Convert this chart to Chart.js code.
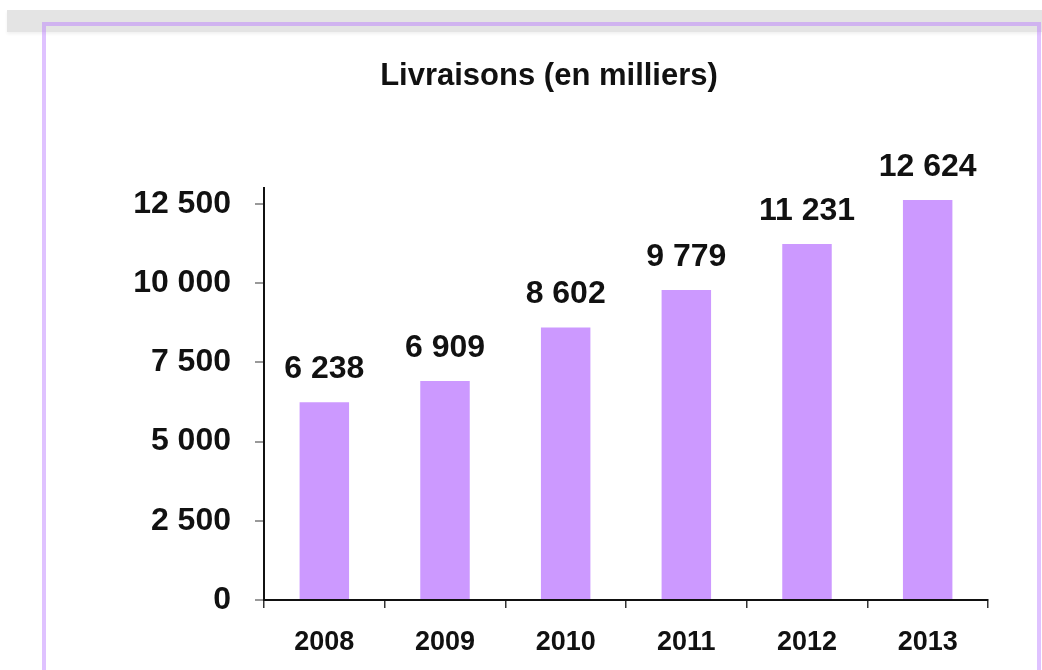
<!DOCTYPE html>
<html lang="fr">

<head>
    <meta charset="UTF-8">
    <title>Livraisons</title>
    <script src="https://cdn.jsdelivr.net/npm/chart.js"></script>
    <style>
        body {
            margin: 0;
            background: #fff;
            width: 1042px;
            height: 670px;
            overflow: hidden;
            position: relative;
            font-family: 'Liberation Sans', Arial, sans-serif;
        }

        .band {
            position: absolute;
            left: 7px;
            top: 10px;
            width: 1035px;
            height: 22px;
            background: #e4e4e4;
            box-shadow: 0 2px 3px rgba(0, 0, 0, 0.06);
        }

        .frame {
            position: absolute;
            left: 42px;
            top: 22px;
            width: 991px;
            height: 720px;
            border: 4px solid rgba(185, 120, 255, 0.45);
        }

        #chart {
            position: absolute;
            left: 0;
            top: 0;
        }
    </style>
</head>

<body>
    <div class="band"></div>
    <div class="frame"></div>
    <canvas id="chart" width="1042" height="670"></canvas>

    <script>
        // donnees
        var annees = ['2008', '2009', '2010', '2011', '2012', '2013'];
        var livraisons = [6238, 6909, 8602, 9779, 11231, 12624];
        var graduations = [0, 2500, 5000, 7500, 10000, 12500];

        var titre = 'Livraisons (en milliers)';

        function fmt(v) {
            return String(v).replace(/\B(?=(\d{3})+(?!\d))/g, ' ');
        }

        // titre + etiquettes de valeurs
        var decor = {
            id: 'decor',
            afterDatasetsDraw: function (chart) {
                var ctx = chart.ctx;
                ctx.save();
                ctx.fillStyle = '#111';
                ctx.textAlign = 'center';
                ctx.textBaseline = 'middle';
                ctx.font = 'bold 31px "Liberation Sans", Arial, sans-serif';
                ctx.fillText(titre, 549, 76);

                ctx.textBaseline = 'alphabetic';
                ctx.font = 'bold 32px "Liberation Sans", Arial, sans-serif';
                chart.getDatasetMeta(0).data.forEach(function (bar, i) {
                    ctx.fillText(fmt(livraisons[i]), bar.x, bar.y - 24);
                });
                ctx.restore();
            }
        };

        new Chart(document.getElementById('chart'), {
            type: 'bar',
            data: {
                labels: annees,
                datasets: [{
                    data: livraisons,
                    backgroundColor: '#cc99ff',
                    barPercentage: 0.41,
                    categoryPercentage: 1
                }]
            },
            options: {
                responsive: false,
                animation: false,
                layout: { padding: { top: 188, right: 54, left: 0, bottom: 0 } },
                plugins: {
                    legend: { display: false },
                    tooltip: { enabled: false }
                },
                scales: {
                    x: {
                        offset: true,
                        grid: {
                            offset: true,
                            drawOnChartArea: false,
                            tickLength: 8,
                            color: '#333',
                            lineWidth: 1.5
                        },
                        border: { color: '#111', width: 2 },
                        ticks: {
                            color: '#111',
                            padding: 18,
                            font: { family: '"Liberation Sans", Arial, sans-serif', size: 27, weight: 'bold' }
                        },
                        afterFit: function (s) { s.height = 70; }
                    },
                    y: {
                        min: 0,
                        max: 13000,
                        grid: {
                            drawOnChartArea: false,
                            tickLength: 9,
                            color: '#999',
                            lineWidth: 2
                        },
                        border: { color: '#111', width: 2 },
                        afterBuildTicks: function (s) {
                            s.ticks = graduations.map(function (v) { return { value: v }; });
                        },
                        ticks: {
                            color: '#111',
                            padding: 24,
                            font: { family: '"Liberation Sans", Arial, sans-serif', size: 32, weight: 'bold' },
                            callback: function (v) { return fmt(v); }
                        },
                        afterFit: function (s) { s.width = 264; }
                    }
                }
            },
            plugins: [decor]
        });
    </script>
</body>

</html>
